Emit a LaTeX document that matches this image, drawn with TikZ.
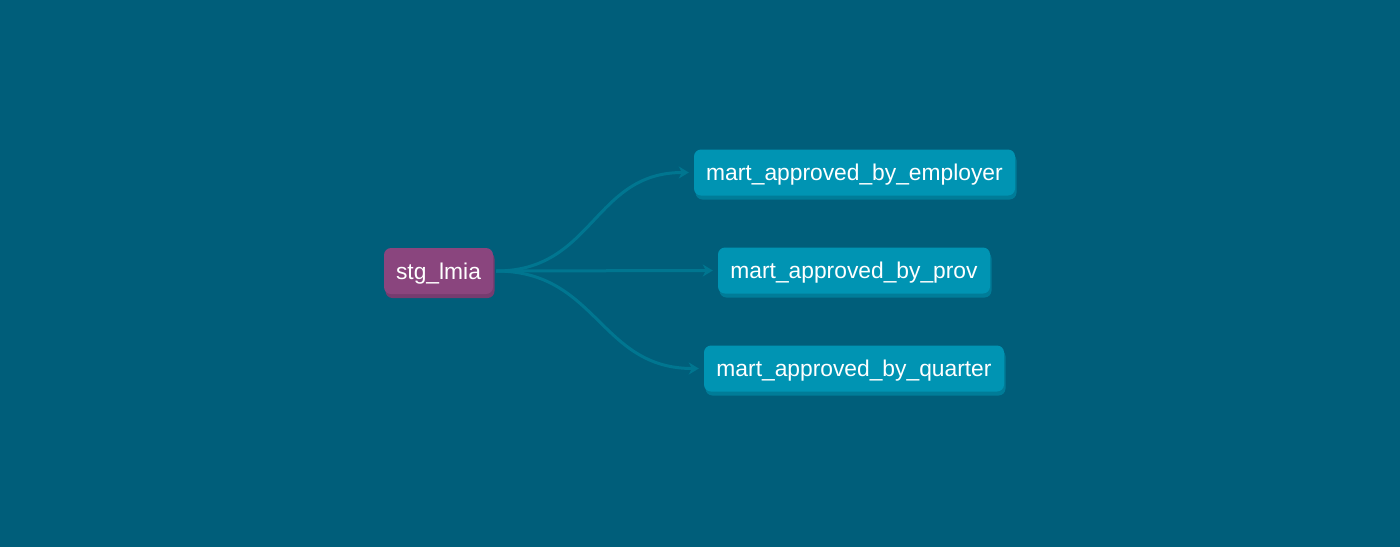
\documentclass[tikz,border=0pt]{standalone}
\usepackage{fontspec}
\setmainfont{Liberation Sans}
\usetikzlibrary{arrows.meta,shadows}
\definecolor{bg}{RGB}{0,94,122}
\definecolor{martfill}{RGB}{0,148,179}
\definecolor{martshadow}{RGB}{0,124,152}
\definecolor{stgfill}{RGB}{138,69,126}
\definecolor{stgshadow}{RGB}{118,60,112}
\definecolor{edgecol}{RGB}{0,118,144}
\tikzset{
  modelbox/.style={rounded corners=7pt, text=white, font=\fontsize{22.8}{26}\selectfont,
    minimum height=46pt, inner sep=0pt, text height=16.5pt, text depth=0pt, anchor=center},
  martbox/.style={modelbox, fill=martfill,
    drop shadow={shadow xshift=1.5pt, shadow yshift=-4pt, fill=martshadow, opacity=1}},
  stgbox/.style={modelbox, fill=stgfill,
    drop shadow={shadow xshift=1.5pt, shadow yshift=-4pt, fill=stgshadow, opacity=1}},
  flow/.style={draw=edgecol, line width=3pt, -{Stealth[length=10pt,width=12pt,inset=3pt]},
    out=0, in=180, looseness=1.15, shorten <=3pt, shorten >=5pt}
}
\begin{document}
\begin{tikzpicture}[x=1pt,y=-1pt]
\fill[bg] (0,0) rectangle (1400,547);
\useasboundingbox (0,0) rectangle (1400,547);
\node[stgbox, minimum width=109pt] (s) at (438.5,271) {stg\_lmia};
\node[martbox, minimum width=321pt] (e) at (854.5,172.5) {mart\_approved\_by\_employer};
\node[martbox, minimum width=272pt] (p) at (854,270.5) {mart\_approved\_by\_prov};
\node[martbox, minimum width=300pt] (q) at (854,368.5) {mart\_approved\_by\_quarter};
\draw[flow] (s.east) to (e.west);
\draw[flow] (s.east) to (p.west);
\draw[flow] (s.east) to (q.west);
\end{tikzpicture}
\end{document}
